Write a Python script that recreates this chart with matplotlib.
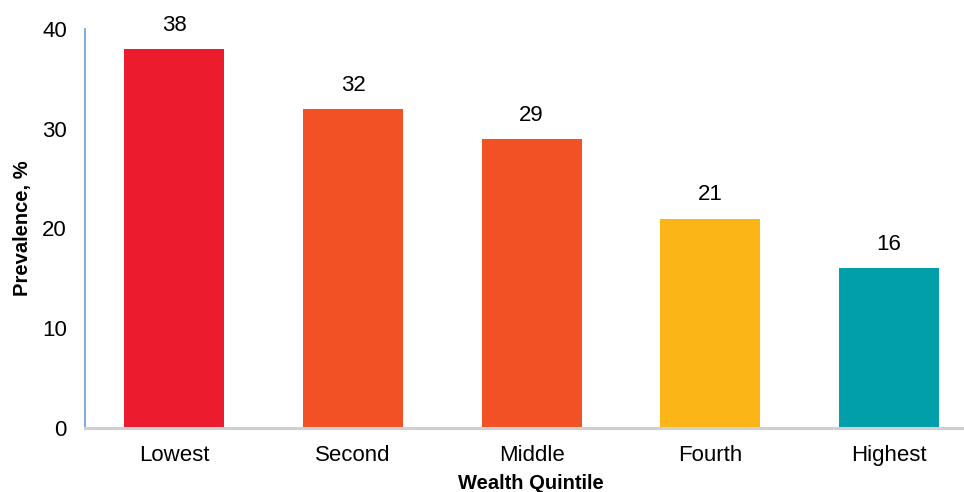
import matplotlib.pyplot as plt

plt.rcParams['font.family'] = ['Liberation Sans', 'DejaVu Sans']

quintiles = ['Lowest', 'Second', 'Middle', 'Fourth', 'Highest']
prevalence = [38, 32, 29, 21, 16]
bar_colors = ['#EC1C2E', '#F15125', '#F15125', '#FBB517', '#009FA9']

fig = plt.figure(figsize=(9.64, 4.92), dpi=100)
ax = fig.add_axes([85 / 964, 1 - 428 / 492, 1 - 85 / 964, (428 - 29) / 492])

x = range(len(quintiles))
bars = ax.bar(x, prevalence, width=0.56, color=bar_colors)

for b, v in zip(bars, prevalence):
    ax.annotate(str(v), (b.get_x() + b.get_width() / 2, v), xytext=(0, 17),
                textcoords='offset points', ha='center', va='center', fontsize=16)

ax.set_xlim(-0.5, 4.42)
ax.set_ylim(0, 40)
ax.set_yticks([0, 10, 20, 30, 40])
ax.set_xticks(list(x))
ax.set_xticklabels(quintiles)
ax.tick_params(axis='both', length=0, labelsize=16)
ax.tick_params(axis='y', pad=13)
ax.tick_params(axis='x', pad=12)

for s in ['top', 'right']:
    ax.spines[s].set_visible(False)
ax.spines['left'].set_color('#6A9AD8')
ax.spines['left'].set_linewidth(1.2)
ax.spines['bottom'].set_color('#D0D0D0')
ax.spines['bottom'].set_linewidth(2.2)

ax.set_ylabel('Prevalence, %', fontsize=14.5, fontweight='bold', labelpad=7)
fig.text(531 / 964, 1 - 474 / 492, 'Wealth Quintile', ha='center', va='top',
         fontsize=14.5, fontweight='bold')

fig.savefig('out.png', dpi=100)
